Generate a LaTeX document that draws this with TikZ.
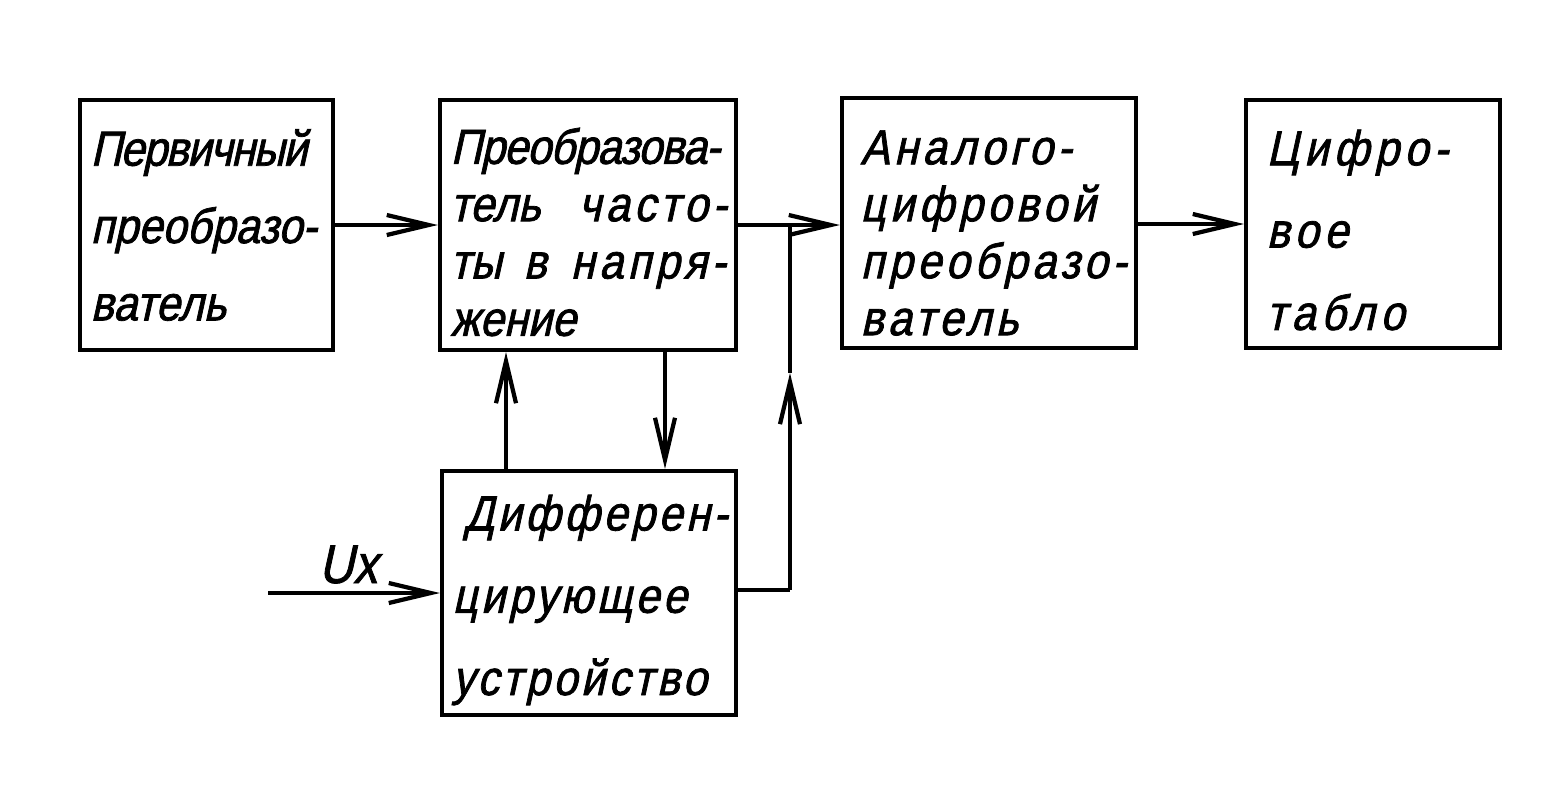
\documentclass[tikz,border=0pt]{standalone}
\usepackage{fontspec}
\newfontfamily\hand{Liberation Sans}[FakeSlant=0.22,FakeStretch=0.88,FakeBold=1.5]
\usetikzlibrary{arrows.meta}
\tikzset{
  blk/.style={draw, line width=1.15pt, inner sep=0pt, anchor=center},
  txt/.style={align=left, inner sep=0pt, anchor=west},
  conn/.style={line width=0.9pt},
  arr/.style={conn, -{Straight Barb[length=0.42cm,width=0.2cm,line width=1.2pt]}},
}
\newcommand{\lsp}[2]{{\addfontfeature{LetterSpace=#1}#2}}
\begin{document}
\begin{tikzpicture}[x=0.01cm,y=-0.01cm]
\useasboundingbox (0,0) rectangle (1560,808);
% boxes
\node[blk, minimum width=2.53cm, minimum height=2.5cm] (b1) at (206.5,225) {};
\node[blk, minimum width=2.96cm, minimum height=2.5cm] (b2) at (588,225) {};
\node[blk, minimum width=2.94cm, minimum height=2.5cm] (b3) at (989,223) {};
\node[blk, minimum width=2.54cm, minimum height=2.48cm] (b4) at (1373,224) {};
\node[blk, minimum width=2.94cm, minimum height=2.44cm] (b5) at (589,593) {};
% texts
\node[txt, font={\hand\fontsize{14}{22}\selectfont}, xshift=0.12cm] (t1) at (b1.west)
  {\lsp{-3}{Первичный}\\преобразо-\\ватель};
\node[txt, font={\hand\fontsize{14}{16.3}\selectfont}, xshift=0.12cm, yshift=-0.07cm] (t2) at (b2.west)
  {\lsp{-2}{Преобразова-}\\тель\hspace{0.38cm}\lsp{9}{часто-}\\ты\hspace{0.22cm}в\hspace{0.24cm}\lsp{9}{напря-}\\жение};
\node[txt, font={\hand\fontsize{14}{16.2}\selectfont\addfontfeature{LetterSpace=9}}, xshift=0.2cm, yshift=-0.1cm] (t3) at (b3.west)
  {Аналого-\\цифровой\\преобразо-\\ватель};
\node[txt, font={\hand\fontsize{14}{23.4}\selectfont\addfontfeature{LetterSpace=11}}, xshift=0.22cm, yshift=-0.06cm] (t4) at (b4.west)
  {Цифро-\\вое\\табло};
\node[txt, font={\hand\fontsize{14}{23.4}\selectfont\addfontfeature{LetterSpace=7}}, xshift=0.12cm, yshift=-0.07cm] (t5) at (b5.west)
  {\hspace{0.12cm}Дифферен-\\цирующее\\устройство};
% junctions
\coordinate (j) at (790,225);
\coordinate (jt) at (790,373);
\coordinate (jb) at (790,590);
\coordinate (ux) at (268,593);
% connectors
\draw[arr] (b1.east |- 0,225) -- (b2.west |- 0,225);
\draw[arr] (b2.east |- 0,225) -- (b3.west |- 0,225);
\draw[arr] (b3.east |- 0,224) -- (b4.west |- 0,224);
\draw[conn] (b5.east |- jb) -- (jb);
\draw[arr] (jb) -- (jt);
\draw[conn] (jt) -- (j);
\draw[arr] (b5.north -| 506,0) -- (b2.south -| 506,0);
\draw[arr] (b2.south -| 665,0) -- (b5.north -| 665,0);
\draw[arr] (ux) -- (b5.west);
\node[font={\hand\fontsize{15.5}{18}\selectfont}, anchor=base] (uxl) at (348,583) {Ux};
\end{tikzpicture}
\end{document}
